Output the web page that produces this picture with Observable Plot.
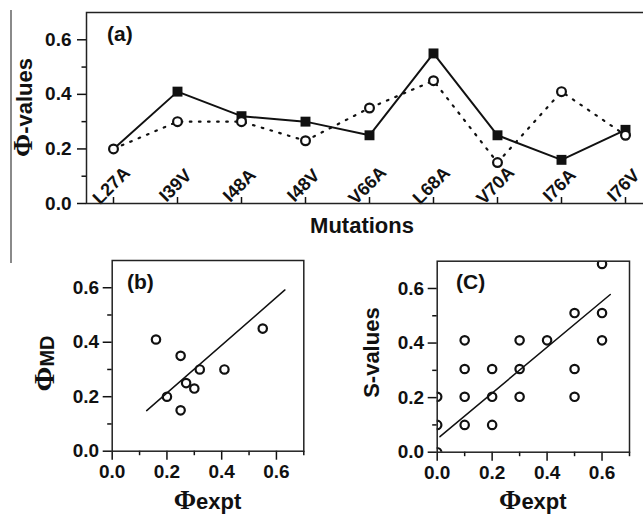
<!DOCTYPE html>
<html><head><meta charset="utf-8">
<script src="https://cdn.jsdelivr.net/npm/d3@7"></script>
<script src="https://cdn.jsdelivr.net/npm/@observablehq/plot@0.6"></script>
<style>
html,body{margin:0;padding:0;width:643px;height:515px;overflow:hidden;background:#fff;}
#wrap{position:relative;width:643px;height:515px;overflow:hidden;}
#wrap svg{position:absolute;left:0;top:0;}
</style></head><body><div id="wrap"></div>
<script>
// ---- data ----
const mutations = ["L27A","I39V","I48A","I48V","V66A","L68A","V70A","I76A","I76V"];
const phiExpt = [0.20,0.41,0.32,0.30,0.25,0.55,0.25,0.16,0.27];
const phiMD   = [0.20,0.30,0.30,0.23,0.35,0.45,0.15,0.41,0.25];
const sExpt   = [0.6,0.5,0.6,0.6,0.4,0.3,0.1,0.1,0.2,0.3,0.5,0.0,0.1,0.2,0.3,0.5,0.0,0.1,0.2,0.0];
const sValues = [0.69,0.51,0.51,0.41,0.41,0.41,0.41,0.305,0.305,0.305,0.305,0.203,0.203,0.203,0.203,0.203,0.1,0.1,0.1,0.0];
const fitBx = [0.126,0.631], fitBy = [0.149,0.592];
const fitCx = [0.010,0.630], fitCy = [0.057,0.578];
const majorTicks = [0,0.2,0.4,0.6];
const minorTicksY = [0.1,0.3,0.5];
const minorTicksX = [0.1,0.3,0.5,0.7];

const SANS = "'Liberation Sans', Arial, sans-serif";
const SERIF = "'Liberation Serif', 'Times New Roman', serif";
const INK = "#111";
const fmt = d3.format(".1f");
const wrap = document.getElementById("wrap");
const baseStyle = {background:"transparent", maxWidth:"none", fontFamily:SANS, overflow:"visible", color:INK};

// ---- panel (a) ----
const dataA = mutations.map((m,i)=>({m, i, e:phiExpt[i], md:phiMD[i]}));
const plotA = Plot.plot({
  width:660, height:515, marginTop:12, marginLeft:86, marginRight:8, marginBottom:312,
  style: baseStyle,
  x:{type:"point", domain:mutations, padding:0.36, axis:null},
  y:{domain:[0,0.7], axis:null},
  marks:[
    Plot.axisY(majorTicks,{tickSize:9, tickPadding:6, tickFormat:fmt, fontSize:19, fontWeight:"bold", label:null, strokeWidth:1.5}),
    Plot.axisY(minorTicksY,{tickSize:4.5, fill:"none", label:null, strokeWidth:1.5}),
    Plot.axisX({tickSize:6, dy:-6, fill:"none", label:null, strokeWidth:1.5}),
    Plot.axisX({tickSize:0, tickPadding:0, tickRotate:-45, textAnchor:"middle", lineAnchor:"middle", dy:-18, dx:-2, fontSize:18, fontWeight:"bold", label:null}),
    Plot.line(dataA,{x:"m", y:"e", stroke:INK, strokeWidth:2}),
    Plot.dot(dataA,{x:"m", y:"e", symbol:"square", r:5.6, fill:INK, stroke:"none", filter:d=>d.i>0}),
    Plot.line(dataA,{x:"m", y:"md", stroke:INK, strokeWidth:2.2, strokeDasharray:"1.6,7.5"}),
    Plot.dot(dataA,{x:"m", y:"md", r:4.4, fill:"white", stroke:INK, strokeWidth:2.2}),
    Plot.frame({stroke:"#222", strokeWidth:1.5})
  ]
});
wrap.appendChild(plotA);

// ---- scatter panels ----
function scatter(points, fx, fy, box){
  const fit = fx.map((x,i)=>({x, y:fy[i]}));
  return Plot.plot({
    width:643, height:515,
    marginLeft:box.l, marginRight:643-box.r, marginTop:box.t, marginBottom:515-box.b,
    style: baseStyle,
    x:{domain:[0,0.7], axis:null},
    y:{domain:[0,0.7], axis:null},
    marks:[
      Plot.axisY(majorTicks,{tickSize:9, tickPadding:4, tickFormat:fmt, fontSize:19, fontWeight:"bold", label:null, strokeWidth:1.5}),
      Plot.axisY(minorTicksY,{tickSize:4.5, fill:"none", label:null, strokeWidth:1.5}),
      Plot.axisX(majorTicks,{tickSize:9, tickPadding:4, tickFormat:fmt, fontSize:19, fontWeight:"bold", label:null, strokeWidth:1.5}),
      Plot.axisX(minorTicksX,{tickSize:4.5, fill:"none", label:null, strokeWidth:1.5}),
      Plot.line(fit,{x:"x", y:"y", stroke:INK, strokeWidth:1.5}),
      Plot.dot(points,{x:"x", y:"y", r:4.2, fill:"none", stroke:INK, strokeWidth:2.2, clip:true}),
      Plot.frame({stroke:"#222", strokeWidth:1.5})
    ]
  });
}
const dataB = phiExpt.map((e,i)=>({x:e, y:phiMD[i]}));
const dataC = sExpt.map((e,i)=>({x:e, y:sValues[i]}));
const plotB = scatter(dataB, fitBx, fitBy, {l:111.7, r:303.3, t:260, b:450.7});
const plotC = scatter(dataC, fitCx, fitCy, {l:436.7, r:629, t:260.7, b:451.7});
wrap.appendChild(plotB);
wrap.appendChild(plotC);

// ---- titles ----
function title(svg, x, y, parts, rotate, anchor="middle"){
  const t = d3.select(svg).append("text")
    .attr("transform", `translate(${x},${y})` + (rotate ? ` rotate(${rotate})` : ""))
    .attr("text-anchor", anchor).attr("fill", INK).attr("font-weight","bold");
  for (const p of parts) {
    t.append("tspan").attr("font-family", p.serif ? SERIF : SANS)
      .attr("font-size", p.size).text(p.t);
  }
}
// gray line at far left of reference
d3.select(plotA).append("line").attr("x1",11).attr("x2",11).attr("y1",10).attr("y2",263)
  .attr("stroke","#8a8a8a").attr("stroke-width",2);

title(plotA, 32, 107.5, [{t:"Φ", size:28, serif:true},{t:"-values", size:22}], -90);
title(plotA, 362, 233, [{t:"Mutations", size:22}]);
title(plotA, 107, 41, [{t:"(a)", size:21}], 0, "start");

title(plotB, 54, 363.5, [{t:"Φ", size:30, serif:true},{t:"MD", size:20}], -90);
title(plotB, 207.5, 509, [{t:"Φ", size:27, serif:true},{t:"expt", size:22}]);
title(plotB, 127, 289, [{t:"(b)", size:21}], 0, "start");

title(plotC, 379, 352.6, [{t:"S-values", size:22}], -90);
title(plotC, 532.8, 509, [{t:"Φ", size:27, serif:true},{t:"expt", size:22}]);
title(plotC, 456, 289, [{t:"(C)", size:21}], 0, "start");
</script>
</body></html>
